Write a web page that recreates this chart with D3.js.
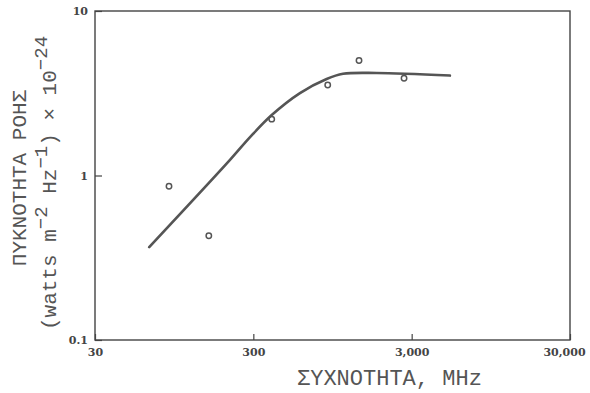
<!DOCTYPE html>
<html lang="en">
<head>
<meta charset="utf-8">
<title>ΠΥΚΝΟΤΗΤΑ ΡΟΗΣ</title>
<script src="https://d3js.org/d3.v7.min.js"></script>
<style>
    body, html { margin: 0; padding: 0; background: #fff; }
    svg { display: block; }
    .tick text { font-family: "DejaVu Serif", serif; font-weight: bold; font-size: 11px; fill: #444; }
    .tick line { stroke: #444; stroke-width: 1.2px; }
    .title { font-family: "Liberation Mono", "DejaVu Sans Mono", monospace; fill: #555; }
</style>
</head>
<body>
<svg id="chart" width="590" height="393"></svg>
<script>
    // measured points (MHz, flux density x 1e-24)
    var pointFreq = [88, 157, 392, 885, 1395, 2685];
    var pointFlux = [0.86, 0.43, 2.2, 3.55, 5.0, 3.9];

    // fitted curve
    var curveFreq = [66, 213, 286, 392, 591, 871, 1105, 1806, 5230];
    var curveFlux = [0.367, 1.24, 1.71, 2.33, 3.17, 3.86, 4.15, 4.2, 4.05];

    var xTicks = [30, 300, 3000, 30000];
    var yTicks = [0.1, 1, 10];
    var yTickLabels = ["0.1", "1", "10"];

    var mLeft = 95, mRight = 570, mTop = 11, mBottom = 340;

    var svg = d3.select("#chart");

    var x = d3.scaleLog().domain([30, 30000]).range([mLeft, mRight]);
    var y = d3.scaleLog().domain([0.1, 10]).range([mBottom, mTop]);

    // frame
    svg.append("rect")
        .attr("x", mLeft).attr("y", mTop)
        .attr("width", mRight - mLeft).attr("height", mBottom - mTop)
        .attr("fill", "none")
        .attr("stroke", "#444")
        .attr("stroke-width", 1.4);

    var xAxis = svg.append("g")
        .attr("transform", "translate(0," + mBottom + ")")
        .call(d3.axisBottom(x)
            .tickValues(xTicks)
            .tickFormat(d3.format(","))
            .tickSizeInner(-6)
            .tickSizeOuter(0)
            .tickPadding(8));
    xAxis.select(".domain").remove();
    xAxis.selectAll(".tick text")
        .attr("dx", function(d) { return d === 30000 ? -6 : 0; });

    var yAxis = svg.append("g")
        .attr("transform", "translate(" + mLeft + ",0)")
        .call(d3.axisLeft(y)
            .tickValues(yTicks)
            .tickFormat(function(d, i) { return yTickLabels[i]; })
            .tickSizeInner(-7)
            .tickSizeOuter(0)
            .tickPadding(7));
    yAxis.select(".domain").remove();

    // curve
    var line = d3.line()
        .x(function(d) { return x(d[0]); })
        .y(function(d) { return y(d[1]); })
        .curve(d3.curveCatmullRom.alpha(0.5));

    svg.append("path")
        .datum(d3.zip(curveFreq, curveFlux))
        .attr("d", line)
        .attr("fill", "none")
        .attr("stroke", "#555")
        .attr("stroke-width", 2.6)
        .attr("stroke-linecap", "round");

    // points
    svg.selectAll("circle.pt")
        .data(d3.zip(pointFreq, pointFlux))
        .enter().append("circle")
            .attr("class", "pt")
            .attr("cx", function(d) { return x(d[0]); })
            .attr("cy", function(d) { return y(d[1]); })
            .attr("r", 2.7)
            .attr("fill", "none")
            .attr("stroke", "#555")
            .attr("stroke-width", 1.5);

    // x title
    svg.append("text")
        .attr("class", "title")
        .attr("x", 297)
        .attr("y", 385)
        .style("font-size", "22px")
        .text("ΣΥΧΝΟΤΗΤΑ, MHz");

    // y title, two lines
    svg.append("text")
        .attr("class", "title")
        .attr("transform", "translate(26,178) rotate(-90)")
        .attr("text-anchor", "middle")
        .style("font-size", "21px")
        .text("ΠΥΚΝΟΤΗΤΑ ΡΟΗΣ");

    var t2 = svg.append("text")
        .attr("class", "title")
        .attr("transform", "translate(56,183) rotate(-90)")
        .attr("text-anchor", "middle")
        .style("font-size", "21px");
    t2.append("tspan").text("(watts m");
    t2.append("tspan").attr("dy", -9).style("font-size", "19px").text("−2");
    t2.append("tspan").attr("dy", 9).text(" Hz");
    t2.append("tspan").attr("dy", -9).style("font-size", "19px").text("−1");
    t2.append("tspan").attr("dy", 9).text(") × 10");
    t2.append("tspan").attr("dy", -9).style("font-size", "19px").text("−24");
</script>
</body>
</html>
